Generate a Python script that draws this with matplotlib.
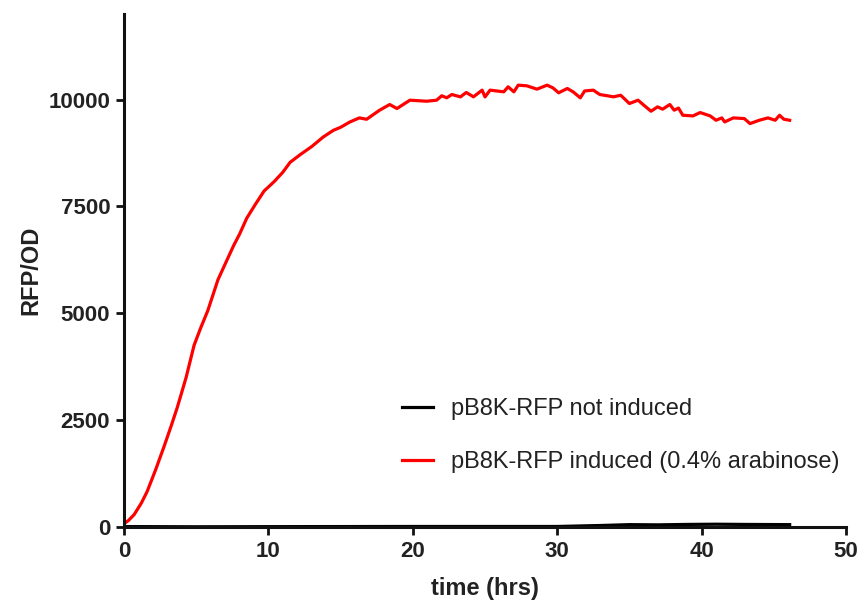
import matplotlib
matplotlib.use("Agg")
import matplotlib.pyplot as plt

# --- data ---
t_red = [0, 0.3, 0.7, 1.2, 1.6, 2.2, 2.8, 3.3, 3.7, 4.3, 4.85, 5.3, 5.8, 6.5, 7.0,
         7.6, 8.0, 8.5, 9.1, 9.7, 10.4, 11.0, 11.5, 12.2, 13.0, 13.8, 14.5, 15.0,
         15.65, 16.3, 16.8, 17.7, 18.4, 18.9, 19.8, 20.96, 21.65, 22.0, 22.35, 22.7,
         23.3, 23.7, 24.2, 24.8, 25.0, 25.35, 26.3, 26.6, 27.0, 27.3, 27.9, 28.6,
         29.3, 29.7, 30.1, 30.7, 31.1, 31.6, 31.9, 32.5, 32.95, 33.9, 34.4, 35.0,
         35.6, 36.0, 36.5, 36.95, 37.3, 37.8, 38.1, 38.4, 38.7, 39.4, 39.9, 40.6,
         41.0, 41.4, 41.6, 42.2, 42.96, 43.35, 44.0, 44.6, 45.1, 45.4, 45.7, 46.1]
v_red = [80, 150, 290, 560, 830, 1350, 1910, 2400, 2810, 3500, 4250, 4650, 5060,
         5780, 6150, 6590, 6850, 7225, 7550, 7860, 8080, 8300, 8530, 8710, 8900,
         9124, 9280, 9350, 9476, 9570, 9538, 9750, 9883, 9789, 9984, 9960, 9984,
         10087, 10040, 10117, 10062, 10164, 10063, 10219, 10060, 10219, 10180,
         10297, 10180, 10336, 10320, 10242, 10336, 10273, 10157, 10258, 10180,
         10039, 10200, 10219, 10117, 10063, 10100, 9906, 9984, 9867, 9726, 9828,
         9774, 9883, 9750, 9800, 9632, 9616, 9695, 9616, 9515, 9570, 9476, 9570,
         9554, 9437, 9515, 9570, 9515, 9632, 9538, 9515]

t_black = [0, 5, 10, 15, 20, 25, 30, 33, 35, 37, 39, 41, 43, 46.1]
v_black = [10, 5, 8, 10, 12, 12, 12, 35, 55, 50, 60, 65, 60, 55]

labels = ["pB8K-RFP not induced", "pB8K-RFP induced (0.4% arabinose)"]
xticks = [0, 10, 20, 30, 40, 50]
yticks = [0, 2500, 5000, 7500, 10000]

plt.rcParams['font.family'] = ['Liberation Sans', 'DejaVu Sans']

fig = plt.figure(figsize=(8.62, 6.04), dpi=100)
ax = fig.add_axes([0.1439, 0.1275, 0.8375, 0.8493])

ax.plot(t_black, v_black, color='black', lw=2.3, label=labels[0], zorder=2)
ax.plot(t_red, v_red, color='#ff0000', lw=2.3, label=labels[1], zorder=3)

ax.set_xlim(0, 50)
ax.set_ylim(0, 12000)
ax.set_xticks(xticks)
ax.set_yticks(yticks)
ax.set_xticklabels([str(x) for x in xticks], fontweight='bold', fontsize=16)
ax.set_yticklabels([str(y) for y in yticks], fontweight='bold', fontsize=16)

for s in ['top', 'right']:
    ax.spines[s].set_visible(False)
for s in ['left', 'bottom']:
    ax.spines[s].set_linewidth(2.2)
    ax.spines[s].set_color('#111111')
    ax.spines[s].set_zorder(4)
ax.tick_params(axis='both', direction='out', length=6, width=2, color='#111111',
               pad=4, labelcolor='#222222')

ax.set_xlabel('time (hrs)', fontweight='bold', fontsize=17, labelpad=11, color='#222222')
ax.set_ylabel('RFP/OD', fontweight='bold', fontsize=17, labelpad=4, color='#222222')

leg = ax.legend(loc='upper left', bbox_to_anchor=(381 / 862, 1 - 377 / 604),
                bbox_transform=fig.transFigure, frameon=False, fontsize=17,
                handlelength=1.3, handletextpad=0.75, labelspacing=1.3)
for txt in leg.get_texts():
    txt.set_color('#222222')

fig.savefig('out.png', dpi=100)
